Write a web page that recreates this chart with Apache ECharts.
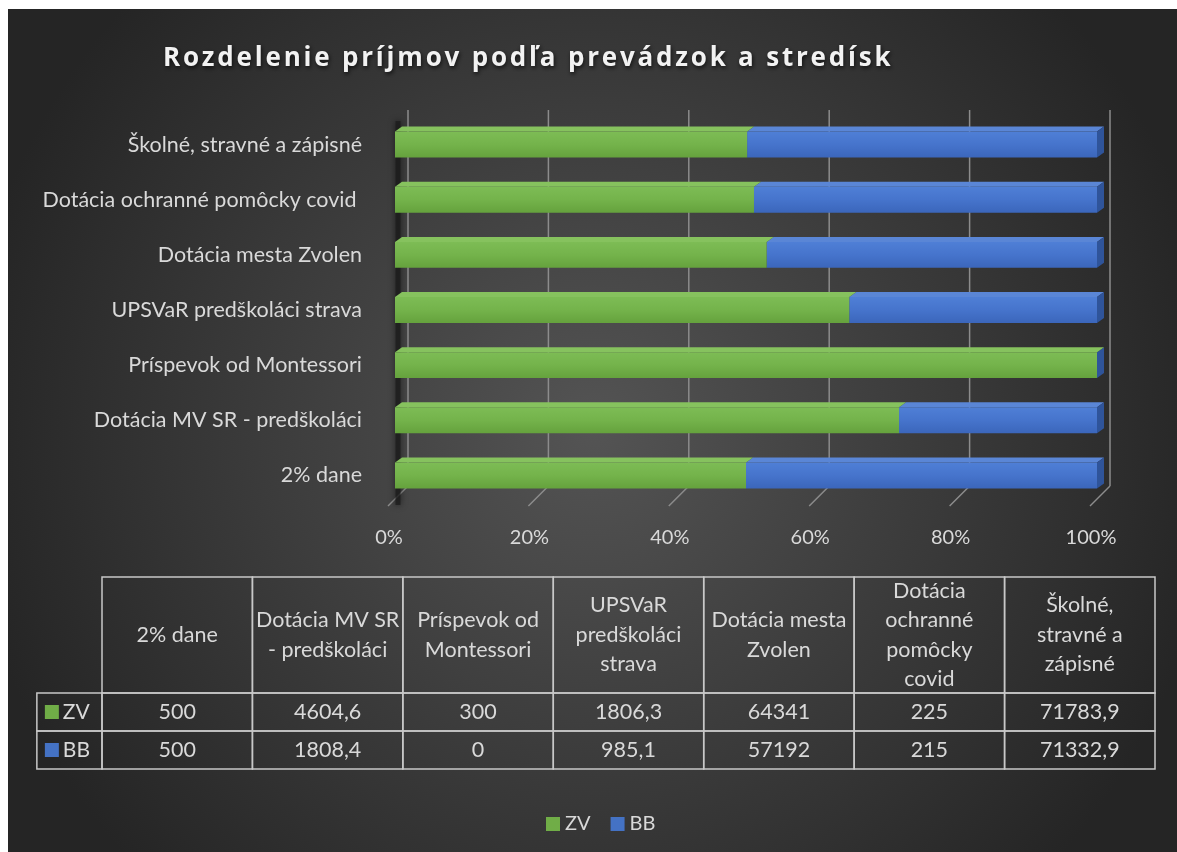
<!DOCTYPE html>
<html><head><meta charset="utf-8">
<script src="https://cdn.jsdelivr.net/npm/echarts@6/dist/echarts.min.js"></script>
<style>html,body{margin:0;background:#fff;} #c{position:absolute;left:8px;top:9px;width:1169px;height:843px;}</style>
</head><body><div id="c"></div>
<script>
const categories = ['2% dane','Dotácia MV SR - predškoláci','Príspevok od Montessori','UPSVaR predškoláci strava','Dotácia mesta Zvolen','Dotácia ochranné pomôcky covid ','Školné, stravné a zápisné'];
const tableHeaders = ['2% dane','Dotácia MV SR\n- predškoláci','Príspevok od\nMontessori','UPSVaR\npredškoláci\nstrava','Dotácia mesta\nZvolen','Dotácia\nochranné\npomôcky\ncovid','Školné,\nstravné a\nzápisné'];
const seriesNames = ['ZV','BB'];
const zvValues = [500,4604.6,300,1806.3,64341,225,71783.9];
const bbValues = [500,1808.4,0,985.1,57192,215,71332.9];
const xTicks = [0,0.2,0.4,0.6,0.8,1];
const titleText = 'Rozdelenie príjmov podľa prevádzok a stredísk';

// letter-spaced title (Excel style): apply canvas letterSpacing only to the title font
(function(){
  const P = CanvasRenderingContext2D.prototype;
  if (!('letterSpacing' in P)) return;
  const wrap = name => { const orig = P[name]; P[name] = function(){ if (this.font && this.font.indexOf('Open Sans') >= 0) { const ls = this.letterSpacing; this.letterSpacing = '2.8px'; const r = orig.apply(this, arguments); this.letterSpacing = ls; return r; } return orig.apply(this, arguments); }; };
  wrap('fillText'); wrap('strokeText');
})();

const FONT = 'Lato';
const TXT = '#d9d9d9';
const GREEN = '#70ad47', BLUE = '#4472c4';
const greenFront = {type:'linear',x:0,y:0,x2:0,y2:1,colorStops:[{offset:0,color:'#7dbc55'},{offset:0.5,color:'#74b34b'},{offset:1,color:'#65a23d'}]};
const blueFront = {type:'linear',x:0,y:0,x2:0,y2:1,colorStops:[{offset:0,color:'#4f7fd6'},{offset:0.5,color:'#4674cc'},{offset:1,color:'#3b66bb'}]};

const shares = zvValues.map((v,i)=> (v+bbValues[i])>0 ? v/(v+bbValues[i]) : 0);
const DX = 7, DY = 5;

function barGeom(params, api){
  const ci = api.value(0);
  const c0 = api.coord([0, ci]);
  const bw = api.size([0,1])[1]*0.47;
  return {ci, y: c0[1]-bw/2, bw};
}
function renderZV(params, api){
  const g = barGeom(params, api);
  const x0 = api.coord([0,g.ci])[0], x1 = api.coord([api.value(1), g.ci])[0];
  if (x1 - x0 < 0.5) return {type:'group',children:[]};
  return {type:'group',children:[
    {type:'polygon',shape:{points:[[x0,g.y],[x0+DX,g.y-DY],[x1+DX,g.y-DY],[x1,g.y]]},style:{fill:'#86c25e'}},
    {type:'rect',shape:{x:x0,y:g.y,width:x1-x0,height:g.bw},style:{fill:greenFront}}
  ]};
}
function renderBB(params, api){
  const g = barGeom(params, api);
  const x0 = api.coord([api.value(1),g.ci])[0], x1 = api.coord([1, g.ci])[0];
  const ch = [];
  if (x1 - x0 > 0.5) {
    ch.push({type:'polygon',shape:{points:[[x0,g.y],[x0+DX,g.y-DY],[x1+DX,g.y-DY],[x1,g.y]]},style:{fill:'#5a86d6'}});
    ch.push({type:'rect',shape:{x:x0,y:g.y,width:x1-x0,height:g.bw},style:{fill:blueFront}});
  }
  ch.push({type:'polygon',shape:{points:[[x1,g.y],[x1+DX,g.y-DY],[x1+DX,g.y+g.bw-DY],[x1,g.y+g.bw]]},style:{fill:'#2f549a'}});
  return {type:'group',children:ch};
}
function renderGrid(params, api){
  const v = api.value(0);
  const c = api.coord([v, 0]);
  const cs = params.coordSys;
  const top = cs.y - 7, bot = cs.y + cs.height - 17;
  const x = c[0] + 13;
  const ch = [
    {type:'line',shape:{x1:x,y1:top,x2:x,y2:bot},style:{stroke:'#8c8c8c',lineWidth:1.5}},
    {type:'line',shape:{x1:x,y1:bot,x2:c[0]-7,y2:cs.y+cs.height+3},style:{stroke:'#8c8c8c',lineWidth:1.5}}
  ];
  if (v === 0) {
    ch.push({type:'line',shape:{x1:c[0]+3,y1:cs.y+4,x2:c[0]+3,y2:cs.y+cs.height+2},style:{stroke:'rgba(25,25,25,0.7)',lineWidth:5,shadowBlur:6,shadowColor:'rgba(0,0,0,0.8)'}});
  }
  return {type:'group',children:ch};
}

// table
const rowEdges = [0,116,154,192];
const legendColWidth = 0.433;
const fmt = v => String(v).replace('.', ',');
const cells = [];
tableHeaders.forEach((h,i)=>cells.push({c0:i,c1:i+1,r:0,text:h}));
[zvValues,bbValues].forEach((arr,si)=>{
  cells.push({c0:-legendColWidth,c1:0,r:si+1,text:seriesNames[si],key:si});
  arr.forEach((v,i)=>cells.push({c0:i,c1:i+1,r:si+1,text:fmt(v)}));
});
function renderCell(params, api){
  const cell = cells[params.dataIndex];
  const p0 = api.coord([cell.c0, rowEdges[cell.r]]);
  const p1 = api.coord([cell.c1, rowEdges[cell.r+1]]);
  const x = p0[0], y = p0[1], w = p1[0]-p0[0], h = p1[1]-p0[1];
  const ch = [{type:'rect',shape:{x,y,width:w,height:h},style:{fill:'none',stroke:'#c8c8c8',lineWidth:1.5}}];
  if (cell.key !== undefined) {
    ch.push({type:'rect',shape:{x:x+8,y:y+h/2-7,width:14,height:14},style:{fill:cell.key===0?GREEN:BLUE}});
    ch.push({type:'text',style:{x:x+26,y:y+h/2,text:cell.text,fill:TXT,font:'21px '+FONT,align:'left',verticalAlign:'middle'}});
  } else {
    ch.push({type:'text',style:{x:x+w/2,y:y+h/2,text:cell.text,fill:TXT,font:'21.5px '+FONT,align:'center',verticalAlign:'middle',lineHeight:29.5}});
  }
  return {type:'group',children:ch};
}

const chart = echarts.init(document.getElementById('c'));
chart.setOption({
  backgroundColor:{type:'radial',x:0.5,y:0.5,r:0.75,colorStops:[{offset:0,color:'#545454'},{offset:1,color:'#252525'}]},
  title:{text:titleText,left:150,top:32,textStyle:{fontFamily:'Open Sans',fontWeight:'bold',fontSize:26,color:'#f2f2f2',textShadowColor:'rgba(0,0,0,0.7)',textShadowBlur:4,textShadowOffsetX:1,textShadowOffsetY:2}},
  legend:{data:seriesNames,bottom:13,left:533,icon:'rect',itemWidth:14,itemHeight:14,itemGap:20,textStyle:{color:TXT,fontSize:20,fontFamily:FONT}},
  grid:[
    {left:387,width:702,top:108,height:386},
    {left:94,width:1053,top:568,height:192}
  ],
  xAxis:[
    {type:'value',gridIndex:0,min:0,max:1,interval:0.2,axisLine:{show:false},axisTick:{show:false},splitLine:{show:false},
     axisLabel:{formatter:v=>Math.round(v*100)+'%',color:TXT,fontSize:20,fontFamily:FONT,margin:25,padding:[0,12,0,0]}},
    {type:'value',gridIndex:1,min:0,max:7,show:false}
  ],
  yAxis:[
    {type:'category',gridIndex:0,data:categories,axisLine:{show:false},axisTick:{show:false},
     axisLabel:{color:TXT,fontSize:21.5,fontFamily:FONT,margin:33}},
    {type:'value',gridIndex:1,min:0,max:192,inverse:true,show:false}
  ],
  series:[
    {type:'custom',name:'grid',xAxisIndex:0,yAxisIndex:0,renderItem:renderGrid,data:xTicks.map(v=>[v]),z:1,silent:true},
    {type:'custom',name:'ZV',xAxisIndex:0,yAxisIndex:0,renderItem:renderZV,itemStyle:{color:GREEN},data:shares.map((s,i)=>[i,s]),z:3},
    {type:'custom',name:'BB',xAxisIndex:0,yAxisIndex:0,renderItem:renderBB,itemStyle:{color:BLUE},data:shares.map((s,i)=>[i,s]),z:2},
    {type:'custom',name:'table',xAxisIndex:1,yAxisIndex:1,renderItem:renderCell,data:cells.map(c=>[c.c0,rowEdges[c.r]]),silent:true,clip:false}
  ]
});
</script></body></html>
